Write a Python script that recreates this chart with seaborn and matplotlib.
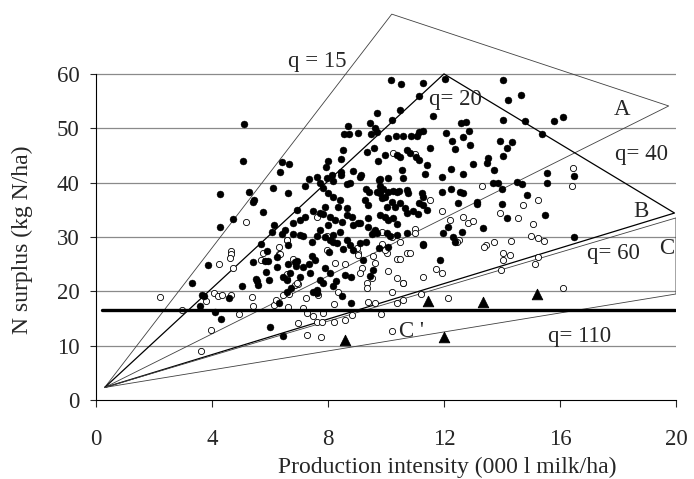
import pandas as pd
import seaborn as sns
from matplotlib import pyplot as plt

# farms with positive surplus (filled) and farms on the low side (open)
filled_x = [5.10, 5.06, 4.28, 5.29, 5.40, 5.45, 5.77, 6.11, 6.41, 6.34, 6.67, 6.63, 4.71, 4.28, 6.14,
            6.06, 6.52, 6.40, 5.68, 3.87, 5.40, 5.89, 5.83, 5.94, 6.23, 6.23, 6.63, 5.86, 5.97, 5.52,
            5.60, 5.04, 3.31, 6.46, 6.57, 6.63, 6.70, 6.85,
            3.67, 3.72, 3.59, 4.11, 4.30, 4.60, 5.54, 6.00, 6.46, 6.32, 6.57, 6.71, 7.49, 7.61, 7.82,
            8.18, 8.47, 8.78,
            10.17, 10.51, 11.26, 12.04, 11.15, 10.48, 9.68, 10.20, 9.45, 11.61, 8.68, 9.62, 9.68, 8.56,
            8.74, 9.05, 9.47, 12.59, 12.75, 12.06, 12.87, 11.15, 11.26, 10.08, 10.35, 10.58, 10.85, 11.08,
            12.27, 12.67, 8.53, 9.33, 9.60, 10.71, 10.83, 11.52, 12.38, 11.03, 11.15, 10.37, 10.48, 8.45,
            9.74, 9.97, 8.01, 7.92, 8.85, 9.13, 8.44, 8.44, 8.13, 7.95, 7.61, 7.36, 7.72, 8.18, 7.21,
            6.92, 8.76, 8.64, 9.10, 9.79, 10.08, 10.55, 10.58, 11.35, 11.40, 11.92, 12.23, 12.64, 12.99,
            9.77, 9.31, 9.43, 9.68, 9.79, 9.91, 10.08, 10.25, 10.37, 10.46, 10.71, 10.77, 11.23, 11.29,
            11.15, 7.84, 8.01, 8.18, 8.41, 8.36, 8.64, 7.90, 7.72, 7.84, 8.07, 8.24, 8.47, 8.64, 8.82,
            9.10, 9.39, 7.49, 7.21, 7.03, 6.80, 9.28, 9.39, 9.79, 9.85, 9.97, 10.02, 10.20, 10.31, 10.48,
            10.65, 10.71, 9.79, 9.97, 10.08, 10.25, 10.39, 10.94, 11.11, 11.29, 11.40, 11.92, 12.23, 12.55,
            12.64, 13.15, 13.13, 12.50, 11.95, 12.13, 12.30, 12.61, 11.29, 11.86, 12.38, 7.72, 8.01, 8.18,
            8.41, 8.87, 9.05, 9.39, 9.62, 9.68, 6.80, 7.03, 7.44, 7.15, 7.61, 7.90, 8.07, 8.18, 8.30,
            8.64, 8.76, 9.10, 9.31, 9.51, 9.59, 10.02, 10.14, 10.37, 10.71, 9.77, 9.22, 8.85, 8.51, 8.05,
            7.44, 7.55, 7.36, 7.13, 6.90, 6.94, 7.03, 7.38, 7.90, 8.07, 7.72, 8.28, 7.61, 8.59, 9.45,
            9.56, 10.08, 11.29, 8.81,
            14.04, 14.22, 14.64, 14.04, 14.79, 15.80, 16.11, 12.89, 13.93, 14.33, 14.16, 14.04, 13.53,
            13.49, 13.72, 15.37, 13.70, 13.87, 13.99, 14.53, 14.68, 15.54, 15.56, 16.49, 14.85, 13.99,
            14.16, 15.50, 13.33, 16.48]
filled_y = [50.8, 43.9, 37.9, 38.3, 36.5, 36.8, 34.5, 39.0, 43.7, 41.9, 43.4, 38.0, 33.3, 31.8, 32.2,
            31.0, 31.2, 30.6, 28.7, 24.9, 25.3, 27.4, 25.5, 25.5, 26.3, 24.5, 25.0, 23.6, 22.1, 22.2,
            21.1, 21.0, 21.5, 22.6, 22.1, 28.5, 23.3, 25.4,
            19.3, 19.1, 17.3, 16.1, 14.9, 18.7, 21.8, 13.5, 11.8, 17.8, 19.9, 20.6, 19.9, 19.6, 21.6,
            21.0, 19.1, 17.8,
            58.8, 58.2, 58.4, 59.1, 55.9, 53.4, 52.8, 51.5, 51.0, 52.2, 50.4, 50.0, 49.4, 49.0,
            49.0, 49.2, 49.0, 50.9, 51.1, 49.1, 49.5, 49.4, 49.5, 48.2, 48.5, 48.6, 48.5, 48.5,
            47.7, 48.3, 46.0, 45.7, 46.3, 46.0, 45.5, 46.3, 46.1, 44.8, 44.2, 45.1, 44.8, 44.4,
            43.9, 45.0, 44.0, 42.9, 42.2, 41.4, 42.0, 41.4, 41.4, 40.9, 41.0, 40.7, 39.9, 40.3, 39.3,
            35.0, 39.9, 39.8, 41.1, 40.6, 40.8, 42.3, 40.8, 41.6, 43.3, 41.1, 42.5, 41.6, 43.4,
            40.4, 38.9, 38.2, 38.3, 39.4, 38.8, 38.2, 38.4, 38.2, 38.5, 38.7, 38.0, 38.0, 37.4,
            36.2, 39.0, 38.0, 37.4, 36.8, 35.6, 35.3, 35.6, 34.4, 34.2, 33.7, 33.1, 32.8, 34.0, 33.7,
            32.5, 33.4, 34.7, 33.7, 33.1, 32.5, 36.8, 35.9, 38.0, 37.1, 37.4, 35.6, 36.5, 35.6, 36.2,
            35.3, 34.4, 34.0, 33.7, 33.1, 33.4, 32.4, 34.7, 34.2, 35.9, 35.0, 38.3, 38.8, 38.2,
            38.0, 36.5, 36.1, 36.2, 30.7, 31.9, 29.9, 31.0, 28.5, 25.8, 29.1, 31.3, 32.2, 30.4,
            31.0, 32.2, 32.5, 31.9, 31.3, 30.7, 30.6, 30.3, 29.1, 30.1, 30.1, 29.9, 29.4, 29.1, 28.8,
            29.4, 28.5, 28.9, 29.1, 30.6, 31.0, 30.7, 30.2, 30.4, 30.8, 27.9, 25.8, 27.6, 27.7, 27.3,
            26.5, 25.8, 25.0, 24.4, 24.7, 25.5, 22.7, 23.3, 24.2, 23.3, 22.1, 21.8, 20.3, 23.0, 22.8,
            23.9, 28.2, 28.7, 22.7,
            58.9, 55.2, 56.1, 51.5, 51.4, 51.4, 52.0, 46.9, 47.7, 47.4, 46.3, 44.9, 44.5,
            43.6, 42.3, 48.9, 39.9, 39.9, 38.9, 40.2, 39.7, 41.7, 39.9, 41.3, 37.7, 36.1,
            33.4, 34.0, 31.7, 29.9]

open_x = [5.17, 6.57, 4.67, 4.67, 4.62, 4.25, 4.71, 5.77, 5.68, 6.31, 6.31, 3.79, 6.60, 6.60, 7.24,
          7.64, 7.95,
          2.21, 2.98, 3.95, 3.61, 4.07, 4.22, 4.36, 4.64, 5.38, 5.40, 4.93, 6.14, 6.21, 6.46, 6.67,
          6.86, 6.98, 6.62, 7.15, 7.26, 6.98, 7.26, 7.47, 7.61, 7.78, 7.76, 7.84,
          8.36, 8.21, 8.21, 8.59, 8.82, 9.33, 9.33, 9.39, 9.62, 9.82, 10.20, 10.58, 10.37, 10.58,
          11.20, 12.15, 10.22,
          7.61, 7.95, 6.58, 6.35, 9.05, 9.85, 10.20, 10.48, 10.71, 11.00, 11.00, 11.52, 11.92, 12.21,
          12.67, 12.84, 13.01, 12.52, 12.46, 9.91, 10.02, 10.37, 10.48, 10.83, 11.72, 11.92, 11.26,
          10.08, 10.37, 10.60, 9.51, 9.16, 8.99, 8.24, 8.59, 9.10, 6.92, 6.80, 10.23, 11.00,
          9.85, 9.96, 9.56, 9.62, 9.04,
          13.30, 14.73, 15.23, 13.93, 14.56, 15.06, 14.99, 15.23, 15.46, 14.31, 13.73, 13.45, 13.38,
          14.04, 14.27, 14.02, 15.23, 15.14, 13.95, 16.44, 16.40, 16.11]
open_y = [32.8, 29.5, 27.4, 26.9, 26.1, 25.0, 24.2, 27.0, 25.8, 28.1, 26.9, 18.2, 23.1, 22.2, 18.7,
          19.3, 27.6,
          18.9, 16.6, 12.8, 9.1, 19.6, 19.1, 19.4, 19.3, 18.9, 17.3, 15.8, 17.5, 18.4, 19.3, 19.5,
          21.2, 21.4, 17.1, 16.9, 16.0, 14.2, 12.0, 15.5, 14.4, 14.4, 11.5, 16.0,
          19.9, 17.7, 14.4, 14.7, 15.6, 21.5, 20.6, 18.1, 17.8, 15.8, 19.8, 21.5, 17.8, 18.4,
          19.5, 18.7, 12.7,
          33.7, 30.1, 29.4, 26.9, 27.1, 31.0, 29.9, 29.0, 27.0, 31.4, 30.7, 36.8, 34.7, 33.1,
          33.6, 32.5, 33.0, 29.5, 29.0, 28.2, 27.1, 25.9, 25.9, 27.0, 24.1, 23.4, 22.7,
          23.8, 22.4, 21.6, 22.4, 24.2, 27.9, 25.2, 25.0, 23.3, 21.5, 25.9, 45.4, 45.2,
          28.7, 27.6, 26.4, 25.2, 26.7,
          39.3, 35.9, 36.8, 34.4, 33.4, 32.4, 30.2, 29.8, 29.3, 29.3, 29.1, 28.5, 28.1,
          27.1, 26.7, 25.8, 26.3, 25.0, 23.9, 42.6, 39.3, 20.6]

# reference farms
tri_x = [8.59, 11.44, 13.36, 15.2, 12.0]
tri_y = [11.05, 18.3, 18.1, 19.5, 11.5]

# boundary polygons (start at the common origin)
polyA_x = [0.3, 10.2, 19.75, 0.3]
polyA_y = [2.3, 71.0, 54.1, 2.3]
polyB_x = [0.3, 12.0, 19.95, 0.3]
polyB_y = [2.3, 60.0, 34.4, 2.3]
polyC_x = [0.3, 20.0, 20.0, 0.3]
polyC_y = [2.3, 33.5, 19.5, 2.3]
norm_level = 16.5

labels = ["q = 15", "q= 20", "A", "q= 40", "B", "q= 60", "C", "C '", "q= 110"]
label_x = [7.62, 12.38, 18.13, 18.8, 18.8, 17.84, 19.68, 10.89, 16.69]
label_y = [62.2, 55.2, 53.4, 45.1, 34.7, 27.0, 27.9, 12.6, 11.7]

sns.set_style("white")
plt.rcParams['font.family'] = ['Liberation Serif', 'DejaVu Serif']

fig = plt.figure(figsize=(6.94, 4.79), dpi=100)
ax = fig.add_axes([0.1383, 0.165, 0.8357, 0.835])

for yy in range(10, 70, 10):
    ax.plot([0, 20], [yy, yy], color="#8a8a8a", lw=0.9, zorder=1)

ax.plot(polyA_x, polyA_y, color="#404040", lw=0.6, zorder=2)
ax.plot(polyB_x, polyB_y, color="black", lw=0.9, zorder=2)
ax.plot(polyC_x, polyC_y, color="#404040", lw=0.6, zorder=2)
ax.plot([0.2, 19.95], [norm_level, norm_level], color="black", lw=2.4, zorder=4)

df_f = pd.DataFrame({"x": filled_x, "y": filled_y})
df_o = pd.DataFrame({"x": open_x, "y": open_y})
df_t = pd.DataFrame({"x": tri_x, "y": tri_y})
sns.scatterplot(data=df_o, x="x", y="y", ax=ax, s=20, facecolor="white", edgecolor="black",
                linewidth=0.6, zorder=3)
sns.scatterplot(data=df_f, x="x", y="y", ax=ax, s=25, color="black", edgecolor="black",
                linewidth=0.3, zorder=3)
sns.scatterplot(data=df_t, x="x", y="y", ax=ax, marker="^", s=58, color="black",
                edgecolor="black", zorder=5)

for t, lx, ly in zip(labels, label_x, label_y):
    ax.text(lx, ly, t, fontsize=16.5, ha="center", va="center", zorder=6)

ax.set_xlim(0, 20)
ax.set_ylim(0, 73.6)
ax.set_xticks([0, 4, 8, 12, 16, 20])
ax.set_yticks([0, 10, 20, 30, 40, 50, 60])
ax.tick_params(axis="x", direction="out", length=5, width=0.8, pad=16, labelsize=16.5, bottom=True)
ax.tick_params(axis="y", direction="out", length=4, width=0.8, pad=8, labelsize=16.5, left=True)
for sp in ["top", "right"]:
    ax.spines[sp].set_visible(False)
ax.spines["left"].set_bounds(0, 60)
ax.spines["left"].set_color("black")
ax.spines["bottom"].set_color("black")
ax.spines["left"].set_linewidth(0.8)
ax.spines["bottom"].set_linewidth(0.8)

ax.set_xlabel("Production intensity (000 l milk/ha)", fontsize=17)
ax.set_ylabel("N surplus (kg N/ha)", fontsize=17)
ax.xaxis.label.set_va("center")
ax.xaxis.set_label_coords(0.605, -0.1675)
ax.yaxis.label.set_va("center")
ax.yaxis.set_label_coords(-0.126, 0.40)

plt.savefig("out.png", dpi=100)
